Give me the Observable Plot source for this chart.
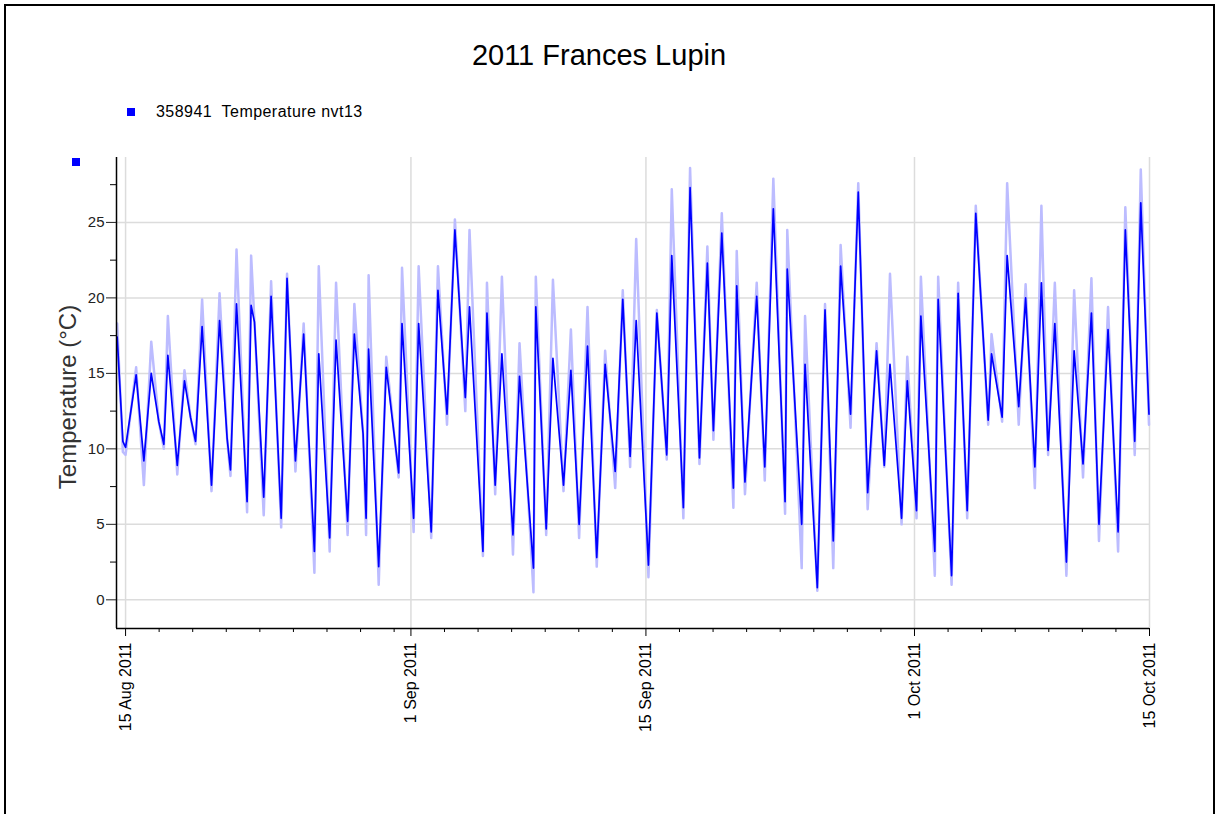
<!DOCTYPE html>
<html>
<head>
<meta charset="utf-8">
<script src="https://cdn.jsdelivr.net/npm/d3@7"></script>
<script src="https://cdn.jsdelivr.net/npm/@observablehq/plot@0.6"></script>
<style>
  body { margin: 0; background: #fff; font-family: "Liberation Sans", Arial, sans-serif; }
  #wrap { position: relative; width: 1219px; height: 814px; overflow: hidden; background: #fff; }
  #chart { position: absolute; left: 0; top: 0; }
  #border { position: absolute; left: 4px; top: 4px; width: 1211px; height: 900px; border: 2px solid #000; box-sizing: border-box; pointer-events: none; }
  #title { position: absolute; left: 0; width: 1198px; top: 39px; text-align: center; font-size: 29px; line-height: 33px; color: #000; }
  #legend { position: absolute; left: 127px; top: 102px; font-size: 16px; line-height: 19px; color: #000; white-space: pre; letter-spacing: 0.45px; }
  #legend .sw { display: inline-block; width: 8px; height: 8px; background: #0000ff; margin-right: 21px; vertical-align: 1px; }
  #sq2 { position: absolute; left: 72px; top: 158px; width: 8px; height: 8px; background: #0000ff; }
  #ylabel { position: absolute; left: -82px; top: 383px; width: 300px; height: 28px; line-height: 28px; text-align: center; font-size: 24px; color: #333; transform: rotate(-90deg); }
</style>
</head>
<body>
<div id="wrap">
  <div id="chart"></div>
  <div id="title"></div>
  <div id="legend"><span class="sw"></span><span id="legtext"></span></div>
  <div id="sq2"></div>
  <div id="ylabel"></div>
  <div id="border"></div>
</div>
<script>
// ---- Texts ----
const titleText = "2011 Frances Lupin";
const seriesName = "358941  Temperature nvt13";
const yAxisTitle = "Temperature (°C)";

// ---- Axis ticks ----
const majorTickDates = ["2011-08-15", "2011-09-01", "2011-09-15", "2011-10-01", "2011-10-15"];
const majorTickLabels = ["15 Aug 2011", "1 Sep 2011", "15 Sep 2011", "1 Oct 2011", "15 Oct 2011"];
const yTicks = [0, 5, 10, 15, 20, 25];
const yMinorTicks = [2.5, 7.5, 12.5, 17.5, 22.5, 27.5];

// ---- Data: turning points, days since 15 Aug 2011 00:00 ----
const dayOffset = [
  -0.50, -0.16, 0.00, 0.63, 1.09, 1.53, 1.98, 2.28, 2.52, 3.08,
  3.51, 3.87, 4.17, 4.56, 5.12, 5.60, 6.05, 6.25, 6.61, 7.24,
  7.48, 7.68, 8.23, 8.67, 9.27, 9.62, 10.12, 10.61, 11.25, 11.51,
  12.16, 12.54, 13.23, 13.63, 14.15, 14.33, 14.48, 15.08, 15.53, 16.27,
  16.47, 17.16, 17.46, 18.21, 18.61, 19.15, 19.62, 20.24, 20.49, 21.29,
  21.53, 22.02, 22.42, 23.08, 23.47, 24.30, 24.44, 25.06, 25.46, 26.09,
  26.53, 27.02, 27.52, 28.07, 28.57, 29.17, 29.62, 30.06, 30.42, 31.15,
  31.65, 32.24, 32.54, 33.23, 33.63, 34.19, 34.66, 35.02, 35.52, 36.21,
  36.41, 36.90, 37.60, 38.08, 38.59, 39.29, 39.42, 40.28, 40.48, 41.21,
  41.67, 42.16, 42.60, 43.19, 43.65, 44.21, 44.74, 45.20, 45.54, 46.23,
  46.57, 47.12, 47.38, 48.21, 48.41, 49.21, 49.60, 50.14, 50.65, 51.39,
  51.59, 52.22, 52.52, 53.21, 53.62, 54.17, 54.56, 54.96, 55.36, 56.05,
  56.51, 57.04, 57.54, 57.99, 58.53, 59.13, 59.56, 60.12, 60.48, 60.97
];
// dark blue trace
const tempDark = [
  17.4, 10.5, 10.1, 14.9, 9.2, 15.0, 11.8, 10.3, 16.2, 8.9,
  14.5, 12.1, 10.5, 18.1, 7.6, 18.5, 10.7, 8.6, 19.6, 6.5,
  19.5, 18.4, 6.8, 20.1, 5.4, 21.3, 9.2, 17.6, 3.2, 16.3,
  4.1, 17.2, 5.2, 17.6, 11.0, 5.4, 16.6, 2.2, 15.4, 8.4,
  18.3, 5.4, 18.3, 4.5, 20.5, 12.3, 24.5, 13.4, 19.4, 3.2,
  19.0, 7.6, 16.3, 4.3, 14.8, 2.1, 19.4, 4.7, 16.0, 7.6,
  15.2, 5.0, 16.8, 2.8, 15.6, 8.5, 19.9, 9.5, 18.5, 2.3,
  19.0, 9.6, 22.8, 6.1, 27.3, 9.4, 22.3, 11.2, 24.3, 7.4,
  20.8, 7.8, 20.1, 8.8, 25.9, 6.5, 21.9, 5.0, 15.6, 0.8,
  19.2, 3.9, 22.1, 12.3, 27.0, 7.1, 16.5, 8.9, 15.6, 5.4,
  14.5, 5.9, 18.8, 3.2, 19.9, 1.6, 20.3, 5.9, 25.6, 11.9,
  16.3, 12.1, 22.8, 12.8, 20.0, 8.8, 21.0, 9.9, 18.3, 2.5,
  16.5, 9.0, 19.0, 5.0, 17.9, 4.5, 24.5, 10.5, 26.3, 12.3
];
// light (pale blue) trace
const tempLight = [
  18.3, 9.8, 9.6, 15.4, 7.6, 17.1, 11.8, 10.0, 18.8, 8.3,
  15.2, 12.1, 10.3, 19.9, 7.2, 20.3, 10.7, 8.2, 23.2, 5.8,
  22.8, 18.4, 5.6, 21.1, 4.8, 21.6, 8.5, 18.3, 1.8, 22.1,
  3.2, 21.0, 4.3, 19.6, 11.0, 4.3, 21.5, 1.0, 16.1, 8.1,
  22.0, 4.5, 22.1, 4.1, 22.1, 11.6, 25.2, 12.5, 24.5, 2.9,
  21.0, 7.0, 21.4, 3.0, 17.0, 0.5, 21.4, 4.3, 21.2, 7.2,
  17.9, 4.1, 19.4, 2.2, 16.5, 7.4, 20.5, 8.8, 23.9, 1.5,
  19.2, 9.3, 27.2, 5.4, 28.6, 9.0, 23.4, 10.6, 25.6, 6.1,
  23.1, 7.0, 21.0, 7.9, 27.9, 5.7, 24.5, 2.1, 18.8, 0.6,
  19.6, 2.1, 23.5, 11.4, 27.6, 6.0, 17.0, 8.8, 21.6, 5.0,
  16.1, 5.4, 21.4, 1.6, 21.4, 1.0, 21.0, 5.4, 26.1, 11.6,
  17.6, 11.8, 27.6, 11.6, 20.9, 7.4, 26.1, 9.6, 21.0, 1.6,
  20.5, 8.1, 21.3, 3.9, 19.4, 3.2, 26.0, 9.6, 28.5, 11.6
];

// ---- Build ----
const T0 = Date.UTC(2011, 7, 15);
const DAY = 864e5;
const rows = dayOffset.map((d, i) => ({ t: new Date(T0 + d * DAY), dark: tempDark[i], light: tempLight[i] }));
const majorTicks = majorTickDates.map(s => new Date(s));
const labelMap = new Map(majorTicks.map((d, i) => [+d, majorTickLabels[i]]));
const minorTicks = [];
for (let k = 0; k < majorTicks.length - 1; k++) {
  d3.utcDay.range(majorTicks[k], majorTicks[k + 1]).forEach((d, i) => { if (i > 0 && i % 2 === 0) minorTicks.push(d); });
}
const xDomain = [new Date(T0 - 0.54 * DAY), new Date(T0 + 61 * DAY)];
const yDomain = [-1.9, 29.3];
const font = "Liberation Sans, Arial, sans-serif";

const chart = Plot.plot({
  width: 1175,
  height: 814,
  marginLeft: 116,
  marginRight: 26,
  marginTop: 157,
  marginBottom: 186,
  style: { fontFamily: font, background: "transparent" },
  x: { type: "utc", domain: xDomain },
  y: { domain: yDomain },
  marks: [
    Plot.gridX(majorTicks, { stroke: "#dcdcdc", strokeOpacity: 1, strokeWidth: 1.5 }),
    Plot.gridY(yTicks, { stroke: "#dcdcdc", strokeOpacity: 1, strokeWidth: 1.5 }),
    Plot.line(rows, { x: "t", y: "light", stroke: "#bcbcff", strokeWidth: 2.5 }),
    Plot.line(rows, { x: "t", y: "dark", stroke: "#0000ff", strokeWidth: 1.7 }),
    Plot.ruleX([xDomain[0]], { stroke: "#000", strokeWidth: 1.5 }),
    Plot.ruleY([yDomain[0]], { stroke: "#000", strokeWidth: 1.5 }),
    Plot.axisY(yTicks, { tickSize: 10, tickPadding: 2, fontSize: 15, label: null, color: "#222" }),
    Plot.axisY(yMinorTicks, { tickSize: 6, tickFormat: () => "", label: null }),
    Plot.axisX(majorTicks, { tickSize: 8, tickRotate: -90, tickPadding: 6, fontSize: 16, label: null, tickFormat: d => labelMap.get(+d), color: "#000" }),
    Plot.axisX(minorTicks, { tickSize: 4, tickFormat: () => "", label: null })
  ]
});
document.getElementById("chart").appendChild(chart);
document.getElementById("title").textContent = titleText;
document.getElementById("legtext").textContent = seriesName;
document.getElementById("ylabel").textContent = yAxisTitle;
</script>
</body>
</html>
